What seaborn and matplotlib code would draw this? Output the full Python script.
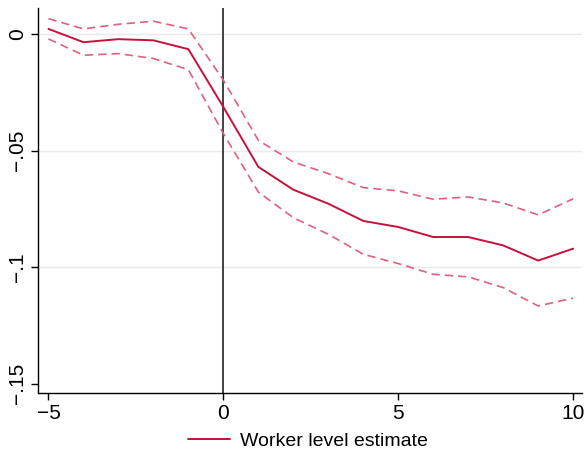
import matplotlib
matplotlib.use("Agg")
import matplotlib.pyplot as plt
import numpy as np
import pandas as pd
import seaborn as sns

# Event time relative to the shock
event_time = [-5, -4, -3, -2, -1, 0, 1, 2, 3, 4, 5, 6, 7, 8, 9, 10]

# Point estimate and 95% confidence bounds
estimate = [0.0023, -0.0034, -0.0021, -0.0026, -0.0064, -0.0312, -0.0569, -0.0667,
            -0.0727, -0.0801, -0.0827, -0.0870, -0.0870, -0.0906, -0.0971, -0.0920]
upper_ci = [0.0067, 0.0023, 0.0043, 0.0056, 0.0023, -0.0197, -0.0455, -0.0548,
            -0.0598, -0.0658, -0.0672, -0.0708, -0.0698, -0.0724, -0.0775, -0.0706]
lower_ci = [-0.0020, -0.0090, -0.0083, -0.0104, -0.0152, -0.0426, -0.0677, -0.0787,
            -0.0858, -0.0944, -0.0984, -0.1030, -0.1041, -0.1087, -0.1166, -0.1132]

x_ticks = [-5, 0, 5, 10]
y_ticks = [0, -0.05, -0.10, -0.15]
y_tick_labels = ["0", "\u2212.05", "\u2212.1", "\u2212.15"]
x_tick_labels = ["\u22125", "0", "5", "10"]

df = pd.DataFrame({"t": event_time, "est": estimate, "hi": upper_ci, "lo": lower_ci})

sns.set_theme(style="white")
plt.rcParams["font.family"] = ["Liberation Sans", "DejaVu Sans"]
plt.rcParams["text.color"] = "black"
plt.rcParams["xtick.color"] = "black"
plt.rcParams["ytick.color"] = "black"

fig = plt.figure(figsize=(5.84, 4.54), dpi=100)
ax = fig.add_axes([0.065, 0.134, 0.932, 0.848])

line_col = "#C8103C"
ci_col = "#E0607F"

sns.lineplot(data=df, x="t", y="hi", ax=ax, color=ci_col, lw=1.2,
             linestyle=(0, (5, 3)), legend=False)
sns.lineplot(data=df, x="t", y="lo", ax=ax, color=ci_col, lw=1.2,
             linestyle=(0, (5, 3)), legend=False)
sns.lineplot(data=df, x="t", y="est", ax=ax, color=line_col, lw=1.4,
             label="Worker level estimate", legend=False)

ax.axvline(0, color="#333333", lw=1.3, zorder=1)

for yv in y_ticks[:3]:
    ax.axhline(yv, color="#EAEAEA", lw=1.0, zorder=0)

ax.set_xlim(-5.3, 10.26)
ax.set_ylim(-0.154, 0.0112)
ax.set_xticks(x_ticks)
ax.set_xticklabels(x_tick_labels, fontsize=15, color="black")
ax.set_yticks(y_ticks)
ax.set_yticklabels(y_tick_labels, fontsize=15, rotation=90, va="center", color="black")
ax.set_xlabel("")
ax.set_ylabel("")

ax.tick_params(axis="both", direction="out", length=5, width=1, color="black",
               bottom=True, left=True, pad=3)
for side in ["top", "right"]:
    ax.spines[side].set_visible(False)
for side in ["left", "bottom"]:
    ax.spines[side].set_color("black")
    ax.spines[side].set_linewidth(1.0)

handles, labels = ax.get_legend_handles_labels()
leg = fig.legend(handles, labels, loc="center", bbox_to_anchor=(0.527, 0.029),
                 frameon=False, fontsize=14, handlelength=2.2, handletextpad=0.5)
for txt in leg.get_texts():
    txt.set_color("black")

fig.savefig("out.png", dpi=100)
